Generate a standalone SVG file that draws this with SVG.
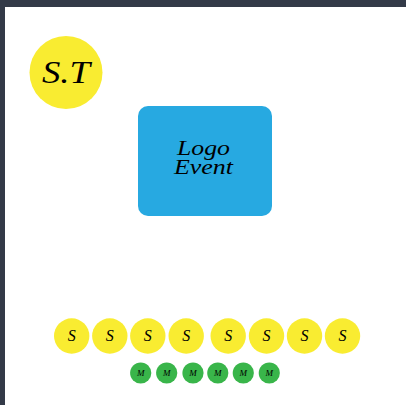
<svg xmlns="http://www.w3.org/2000/svg" width="406" height="405" viewBox="0 0 406 405">
<style>
text{font-family:"Liberation Serif","DejaVu Serif",serif;font-style:italic;fill:#000;text-anchor:middle}
.y{fill:#f9ec31}
.g{fill:#39b54a}
.s{font-size:16px}
.m{font-size:9px}
</style>
<rect x="0" y="0" width="406" height="405" fill="#333a48"/>
<rect x="5" y="7" width="401" height="398" fill="#ffffff"/>
<g id="st">
<circle class="y" cx="66" cy="72.5" r="36.5"/>
<text x="66" y="83" style="font-size:32px" textLength="48" lengthAdjust="spacingAndGlyphs">S.T</text>
</g>
<g id="logo">
<rect x="138" y="106" width="134" height="110" rx="10" fill="#27a9e1"/>
<text x="203.5" y="155" style="font-size:22px" textLength="53" lengthAdjust="spacingAndGlyphs">Logo</text>
<text x="203.5" y="174" style="font-size:22px" textLength="59" lengthAdjust="spacingAndGlyphs">Event</text>
</g>
<g id="connectors"/>
<g id="s1"><circle class="y" cx="71.7" cy="336" r="17.7"/><text class="s" x="71.7" y="341">S</text></g>
<g id="s2"><circle class="y" cx="109.8" cy="336" r="17.7"/><text class="s" x="109.8" y="341">S</text></g>
<g id="s3"><circle class="y" cx="147.8" cy="336" r="17.7"/><text class="s" x="147.8" y="341">S</text></g>
<g id="s4"><circle class="y" cx="186.2" cy="336" r="17.7"/><text class="s" x="186.2" y="341">S</text></g>
<g id="s5"><circle class="y" cx="228.2" cy="336" r="17.7"/><text class="s" x="228.2" y="341">S</text></g>
<g id="s6"><circle class="y" cx="266.5" cy="336" r="17.7"/><text class="s" x="266.5" y="341">S</text></g>
<g id="s7"><circle class="y" cx="304.5" cy="336" r="17.7"/><text class="s" x="304.5" y="341">S</text></g>
<g id="s8"><circle class="y" cx="342.5" cy="336" r="17.7"/><text class="s" x="342.5" y="341">S</text></g>
<g id="m1"><circle class="g" cx="140.7" cy="373" r="10.6"/><text class="m" x="140.7" y="376">M</text></g>
<g id="m2"><circle class="g" cx="166.7" cy="373" r="10.6"/><text class="m" x="166.7" y="376">M</text></g>
<g id="m3"><circle class="g" cx="193" cy="373" r="10.6"/><text class="m" x="193" y="376">M</text></g>
<g id="m4"><circle class="g" cx="217.8" cy="373" r="10.6"/><text class="m" x="217.8" y="376">M</text></g>
<g id="m5"><circle class="g" cx="243.3" cy="373" r="10.6"/><text class="m" x="243.3" y="376">M</text></g>
<g id="m6"><circle class="g" cx="269.3" cy="373" r="10.6"/><text class="m" x="269.3" y="376">M</text></g>
</svg>
